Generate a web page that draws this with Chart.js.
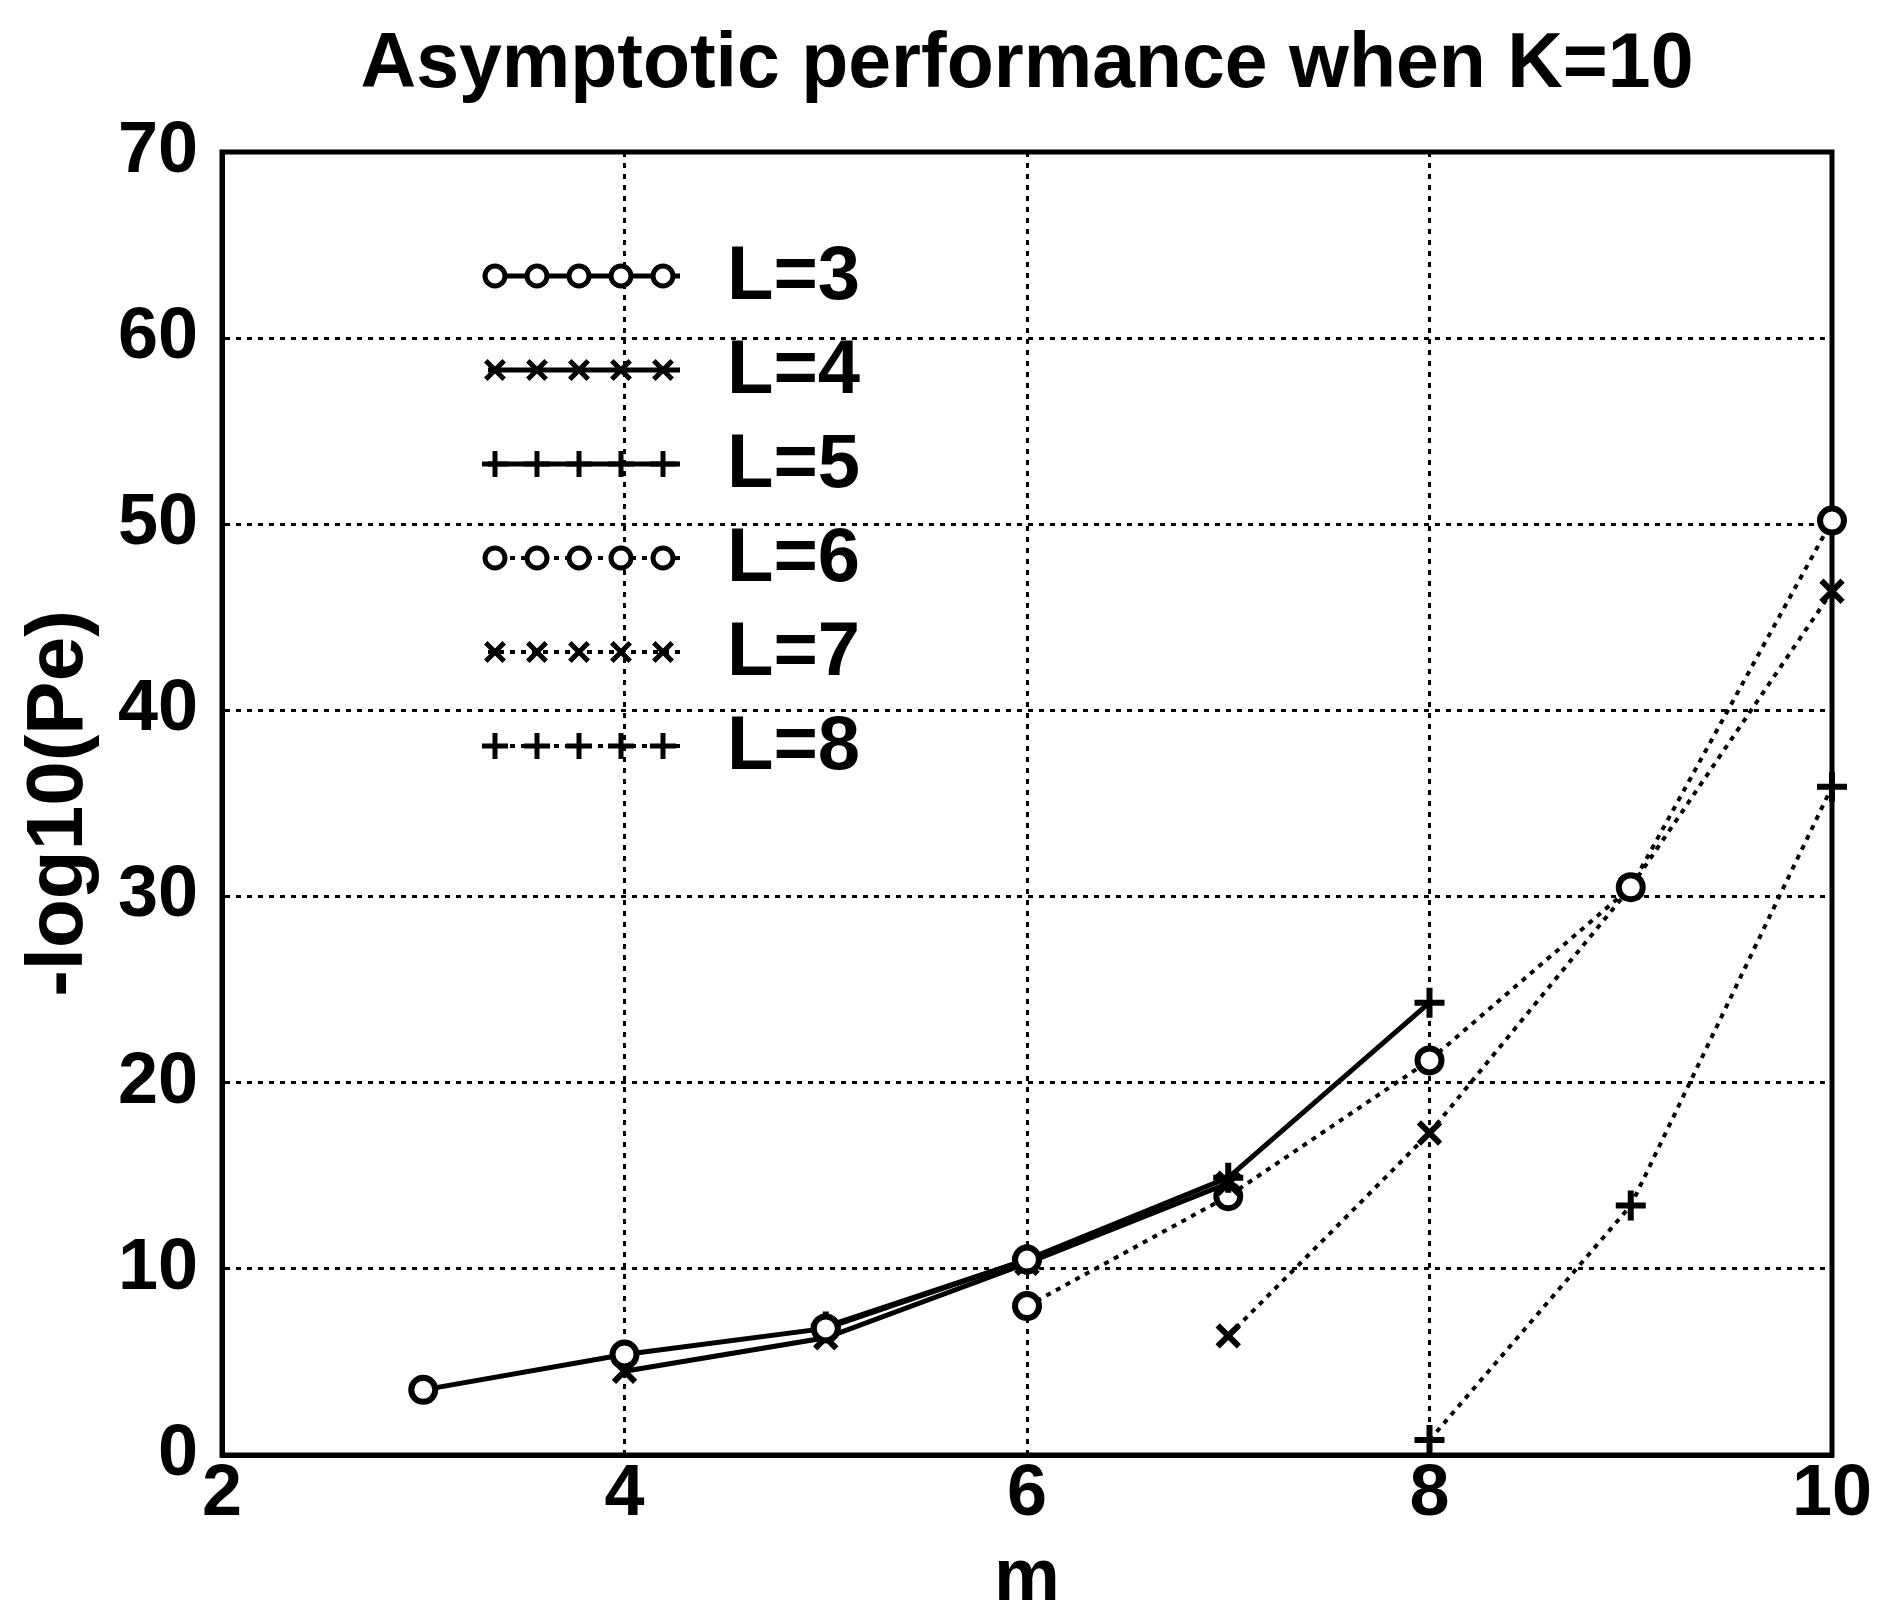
<!DOCTYPE html>
<html>
<head>
<meta charset="utf-8">
<script src="https://cdn.jsdelivr.net/npm/chart.js@4.4.1/dist/chart.umd.min.js"></script>
<style>
  body { margin: 0; background: #fff; }
  canvas { display: block; }
</style>
</head>
<body>
<canvas id="myChart" width="1881" height="1618"></canvas>
<script>
'use strict';

// values, m on x, -log10(Pe) on y
const seriesNames = ['L=3', 'L=4', 'L=5', 'L=6', 'L=7', 'L=8'];
const mL3 = [3, 4, 5, 6];
const peL3 = [3.5, 5.4, 6.8, 10.5];
const mL4 = [4, 5, 6, 7];
const peL4 = [4.5, 6.3, 10.3, 14.6];
const mL5 = [5, 6, 7, 8];
const peL5 = [6.9, 10.5, 14.9, 24.3];
const mL6 = [6, 7, 8, 9, 10];
const peL6 = [8.0, 13.9, 21.2, 30.5, 50.2];
const mL7 = [7, 8, 9, 10];
const peL7 = [6.4, 17.3, 30.5, 46.4];
const mL8 = [8, 9, 10];
const peL8 = [0.8, 13.4, 35.9];
const xTicks = [2, 4, 6, 8, 10];
const yTicks = [0, 10, 20, 30, 40, 50, 60, 70];

const FONT = '"Liberation Sans", Arial, sans-serif';
Chart.defaults.font.family = FONT;
Chart.defaults.color = '#000';

function pts(xs, ys) {
  return xs.map((x, i) => ({ x: x, y: ys[i] }));
}

function series(label, xs, ys, style, dotted) {
  return {
    label: label,
    data: pts(xs, ys),
    borderColor: '#000',
    borderWidth: dotted ? 4 : 5,
    borderDash: dotted ? [5, 6] : [],
    pointStyle: style,
    pointRadius: style === 'circle' ? 12 : 15,
    pointBorderWidth: 6,
    pointBorderColor: '#000',
    pointBackgroundColor: '#fff',
    tension: 0,
    clip: false
  };
}

// frame on top and right, like the matlab box
const frame = {
  id: 'frame',
  beforeDatasetsDraw(chart) {
    const a = chart.chartArea;
    const c = chart.ctx;
    c.save();
    c.strokeStyle = '#000';
    c.lineWidth = 5;
    c.strokeRect(a.left, a.top, a.right - a.left, a.bottom - a.top);
    c.restore();
  }
};

// legend with 5 markers on each sample line, no box
const lineLegend = {
  id: 'lineLegend',
  afterDatasetsDraw(chart) {
    const c = chart.ctx;
    chart.data.datasets.forEach((ds, i) => {
      const y = 276 + i * 94;
      c.save();
      c.strokeStyle = '#000';
      c.lineWidth = ds.borderWidth;
      c.setLineDash(ds.borderDash);
      c.beginPath();
      c.moveTo(488, y);
      c.lineTo(680, y);
      c.stroke();
      c.restore();
      for (let k = 0; k < 5; k++) {
        c.save();
        c.strokeStyle = '#000';
        c.fillStyle = ds.pointBackgroundColor;
        c.lineWidth = 5;
        Chart.helpers.drawPoint(c, {
          pointStyle: ds.pointStyle,
          radius: ds.pointRadius - 2,
          borderWidth: 5,
          rotation: 0
        }, 495 + k * 42, y);
        c.restore();
      }
      c.save();
      c.font = 'bold 76px ' + FONT;
      c.textBaseline = 'middle';
      c.fillStyle = '#000';
      c.fillText(ds.label, 727, y + 2);
      c.restore();
    });
  }
};

const ctx = document.getElementById('myChart');

new Chart(ctx, {
  type: 'line',
  data: {
    datasets: [
      series(seriesNames[0], mL3, peL3, 'circle', false),
      series(seriesNames[1], mL4, peL4, 'crossRot', false),
      series(seriesNames[2], mL5, peL5, 'cross', false),
      series(seriesNames[3], mL6, peL6, 'circle', true),
      series(seriesNames[4], mL7, peL7, 'crossRot', true),
      series(seriesNames[5], mL8, peL8, 'cross', true)
    ]
  },
  options: {
    responsive: false,
    animation: false,
    layout: { padding: { left: 0, right: 49, top: 0, bottom: 0 } },
    plugins: {
      legend: { display: false },
      tooltip: { enabled: false },
      title: {
        display: true,
        text: 'Asymptotic performance when K=10',
        fullSize: false,
        color: '#000',
        font: { size: 77, weight: 'bold', lineHeight: 1 },
        padding: { top: 27, bottom: 48 }
      }
    },
    scales: {
      x: {
        type: 'linear',
        min: 2,
        max: 10,
        afterBuildTicks: (scale) => { scale.ticks = xTicks.map(v => ({ value: v })); },
        afterFit: (scale) => { scale.height = 163; },
        ticks: {
          padding: 4,
          font: { size: 72, weight: 'bold', lineHeight: 1 },
          color: '#000'
        },
        grid: { color: '#000', lineWidth: 3, drawTicks: false },
        border: { display: true, color: '#000', width: 5, dash: [5, 6] },
        title: {
          display: true,
          text: 'm',
          color: '#000',
          font: { size: 74, weight: 'bold', lineHeight: 1 },
          padding: { top: 0, bottom: 1 }
        }
      },
      y: {
        min: 0,
        max: 70,
        afterBuildTicks: (scale) => { scale.ticks = yTicks.map(v => ({ value: v })); },
        afterFit: (scale) => { scale.width = 222; },
        ticks: {
          padding: 24,
          font: { size: 72, weight: 'bold', lineHeight: 1 },
          color: '#000'
        },
        grid: { color: '#000', lineWidth: 3, drawTicks: false },
        border: { display: true, color: '#000', width: 5, dash: [5, 6] },
        title: {
          display: true,
          text: '-log10(Pe)',
          color: '#000',
          font: { size: 80, weight: 'bold', lineHeight: 1 },
          padding: { top: 20, bottom: 0 }
        }
      }
    }
  },
  plugins: [frame, lineLegend]
});
</script>
</body>
</html>
